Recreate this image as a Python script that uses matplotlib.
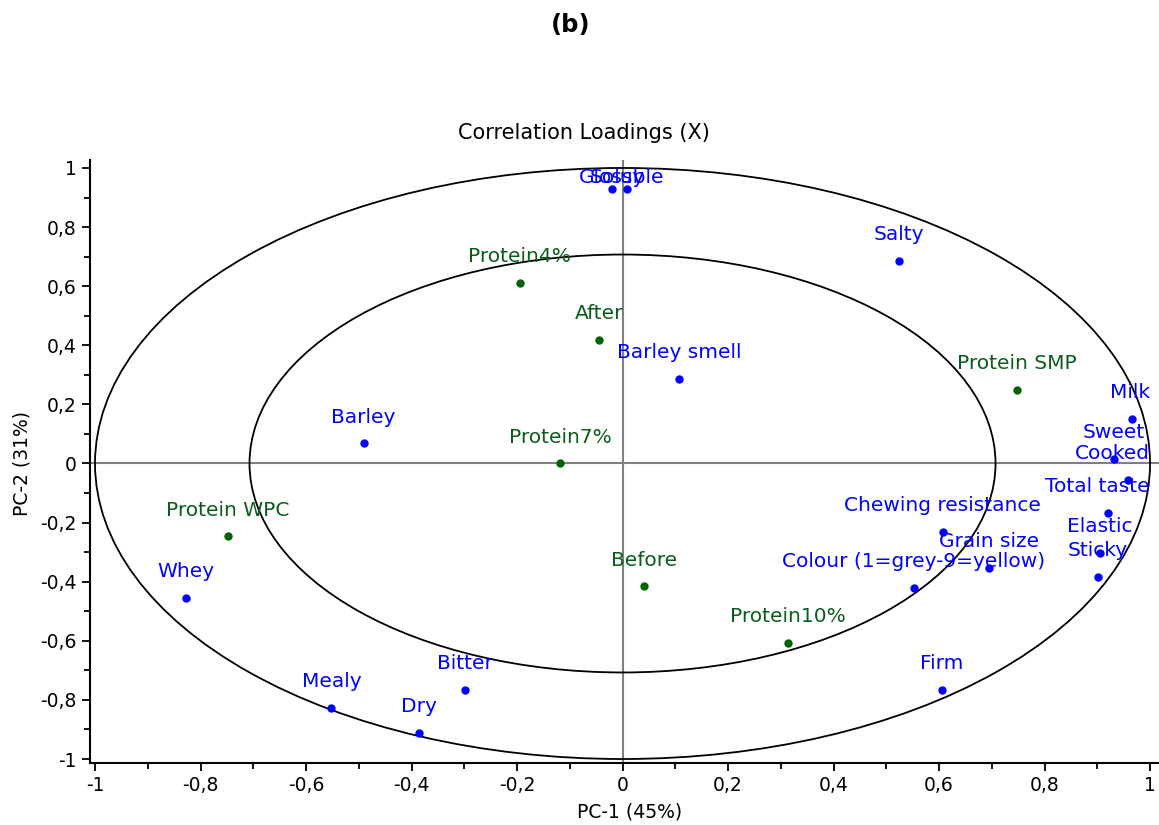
import numpy as np
import matplotlib.pyplot as plt
from matplotlib.patches import Ellipse
from matplotlib.ticker import MultipleLocator, FuncFormatter

plt.rcParams['font.family'] = ['DejaVu Sans']

# variables (blue)
var_names = ["Glossy", "Soluble", "Salty", "Barley smell", "Milk", "Sweet", "Cooked",
             "Total taste", "Chewing resistance", "Grain size", "Elastic", "Sticky",
             "Colour (1=grey-9=yellow)", "Firm", "Barley", "Whey", "Mealy", "Dry", "Bitter"]
var_x = [-0.019, 0.009, 0.524, 0.108, 0.966, 0.932, 0.958, 0.920, 0.607, 0.694, 0.905,
         0.901, 0.552, 0.605, -0.491, -0.827, -0.552, -0.385, -0.298]
var_y = [0.929, 0.929, 0.686, 0.287, 0.151, 0.014, -0.057, -0.168, -0.233, -0.354, -0.303,
         -0.384, -0.422, -0.767, 0.068, -0.456, -0.828, -0.912, -0.767]

# samples (green)
smp_names = ["Protein4%", "After", "Protein SMP", "Protein7%", "Protein WPC", "Before", "Protein10%"]
smp_x = [-0.195, -0.044, 0.748, -0.118, -0.748, 0.040, 0.313]
smp_y = [0.611, 0.419, 0.250, 0.000, -0.247, -0.416, -0.608]

blue = "#0000ff"
green_dot = "#006400"
green_txt = "#0b5d1e"
lab_fs = 14.5

fig = plt.figure(figsize=(11.59, 8.25), dpi=100)
ax = fig.add_axes([90 / 1159, 62 / 825, 1 - 90 / 1159, (763 - 160) / 825])
ax.set_xlim(-1.0095, 1.017)
ax.set_ylim(-1.0135, 1.027)

ax.axhline(0, color="#808080", lw=1.5, zorder=1)
ax.axvline(0, color="#808080", lw=1.5, zorder=1)
for r in (1.0, np.sqrt(0.5)):
    ax.add_patch(Ellipse((0, 0), 2 * r, 2 * r, fill=False, ec="black", lw=1.3, zorder=2))

ax.plot(var_x, var_y, "o", color=blue, ms=5, zorder=3)
ax.plot(smp_x, smp_y, "o", color=green_dot, ms=5, zorder=3)

for n, x, y in zip(var_names, var_x, var_y):
    ax.annotate(n, (x, y), xytext=(0, 19), textcoords="offset points",
                ha="center", va="center", color=blue, fontsize=lab_fs, zorder=4)
for n, x, y in zip(smp_names, smp_x, smp_y):
    ax.annotate(n, (x, y), xytext=(0, 19), textcoords="offset points",
                ha="center", va="center", color=green_txt, fontsize=lab_fs, zorder=4)

# keep labels inside the plot area (right and top edges)
right_px = 1150
top_px = 825 - 168
fig.canvas.draw()
r = fig.canvas.get_renderer()
for t in ax.texts:
    bb = t.get_window_extent(r)
    ox, oy = t.xyann
    if bb.x1 > right_px:
        ox -= (bb.x1 - right_px) * 72 / fig.dpi
    if bb.y1 > top_px:
        oy -= (bb.y1 - top_px) * 72 / fig.dpi
    t.xyann = (ox, oy)

for s in ("top", "right"):
    ax.spines[s].set_visible(False)
ax.spines["left"].set_linewidth(1.5)
ax.spines["bottom"].set_linewidth(1.5)

ax.xaxis.set_major_locator(MultipleLocator(0.2))
ax.xaxis.set_minor_locator(MultipleLocator(0.1))
ax.yaxis.set_major_locator(MultipleLocator(0.2))
ax.yaxis.set_minor_locator(MultipleLocator(0.1))


def fmt(v, pos):
    v = round(v, 1)
    if v == int(v):
        return "%d" % v
    return ("%g" % v).replace(".", ",")


ax.xaxis.set_major_formatter(FuncFormatter(fmt))
ax.yaxis.set_major_formatter(FuncFormatter(fmt))
ax.tick_params(which="major", length=6, width=1.3, labelsize=13.5, direction="out")
ax.tick_params(which="minor", length=4, width=1.3, direction="out")

fig.text(630 / 1159, 1 - 812 / 825, "PC-1 (45%)", ha="center", va="center", fontsize=13.5)
fig.text(22 / 1159, (825 - 463) / 825, "PC-2 (31%)", rotation=90, ha="center", va="center",
         fontsize=13.5)

fig.text(584 / 1159, 1 - 133 / 825, "Correlation Loadings (X)", ha="center", va="center",
         fontsize=15)
fig.text(571 / 1159, 1 - 25 / 825, "(b)", ha="center", va="center", fontsize=17.5,
         fontweight="bold")

fig.savefig("out.png", dpi=100)
